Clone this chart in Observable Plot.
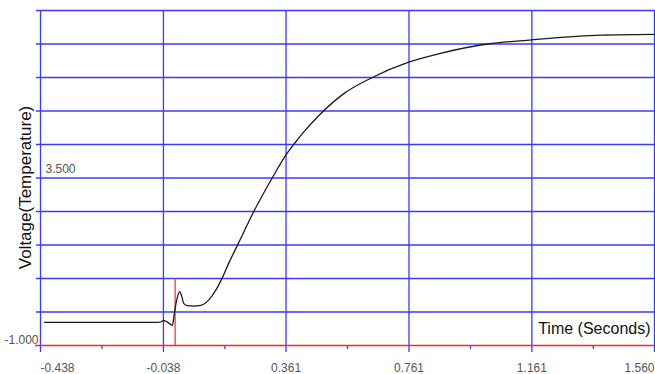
<!DOCTYPE html>
<html>
<head>
<meta charset="utf-8">
<script src="https://cdn.jsdelivr.net/npm/d3@7"></script>
<script src="https://cdn.jsdelivr.net/npm/@observablehq/plot@0.6"></script>
<style>
  html, body { margin: 0; padding: 0; background: #fff; }
  #chart { width: 655px; height: 374px; }
</style>
</head>
<body>
<div id="chart"></div>
<script>
// Data
const timeS = [-0.425, -0.064, -0.048, -0.037, -0.025, -0.009, -0.002, 0.005, 0.015, 0.021, 0.028, 0.040, 0.060, 0.083, 0.109, 0.132, 0.153, 0.175, 0.204, 0.256, 0.316, 0.363, 0.386, 0.414, 0.468, 0.548, 0.642, 0.760, 0.864, 1.017, 1.160, 1.384, 1.557];
const voltage = [-0.38, -0.38, -0.37, -0.33, -0.37, -0.46, -0.11, 0.21, 0.45, 0.34, 0.13, 0.07, 0.06, 0.08, 0.22, 0.48, 0.81, 1.22, 1.71, 2.60, 3.50, 4.15, 4.40, 4.69, 5.18, 5.76, 6.20, 6.61, 6.85, 7.10, 7.21, 7.34, 7.36];

const xTicks = [-0.438, -0.038, 0.361, 0.761, 1.161, 1.560];
const xTickLabels = ["-0.438", "-0.038", "0.361", "0.761", "1.161", "1.560"];
const xMinorTicks = [-0.238, 0.162, 0.561, 0.961, 1.361];
const yGrid = [-0.1, 0.8, 1.7, 2.6, 3.5, 4.4, 5.3, 6.2, 7.1, 8.0];
const yLabels = [3.5, -1.0];
const yLabelTexts = ["3.500", "-1.000"];
const triggerTime = [0];
const triggerTop = 0.8;

const xLabel = "Time (Seconds)";
const yLabel = "Voltage(Temperature)";

const data = timeS.map((t, i) => ({t, v: voltage[i]}));
const xTickData = xTicks.map((x, i) => ({x, label: xTickLabels[i], i}));
const yLabelData = yLabels.map((y, i) => ({y, label: yLabelTexts[i]}));

const BLUE = "#3a3aff";
const RED = "#ff2222";
const n = xTicks.length;

const chart = Plot.plot({
  width: 655,
  height: 374,
  marginLeft: 40,
  marginRight: 1,
  marginTop: 10,
  marginBottom: 29,
  style: {fontFamily: "'Liberation Sans', Arial, sans-serif", fontSize: "12px", background: "white", overflow: "visible"},
  x: {domain: [-0.438, 1.560], axis: null},
  y: {domain: [-1, 8], axis: null},
  marks: [
    Plot.ruleY(yGrid, {stroke: BLUE, strokeWidth: 1.5, insetLeft: -4}),
    Plot.ruleX(xTicks, {stroke: BLUE, strokeWidth: 1.3, insetBottom: -7}),
    Plot.axisX(xMinorTicks, {tickSize: 4, stroke: BLUE, strokeWidth: 1.3, tickFormat: () => "", anchor: "bottom"}),
    Plot.ruleY([-1], {stroke: RED, strokeWidth: 1.4, insetLeft: -5}),
    Plot.ruleX(triggerTime, {y1: -1, y2: triggerTop, stroke: RED, strokeWidth: 1.2}),
    Plot.line(data, {x: "t", y: "v", stroke: "#1a1a1a", strokeWidth: 1.3, curve: "monotone-x"}),
    // x tick labels
    Plot.text(xTickData, {filter: d => d.i === 0, x: "x", text: "label", frameAnchor: "bottom", lineAnchor: "bottom", dy: 26, textAnchor: "start", fill: "#555", fontSize: 12}),
    Plot.text(xTickData, {filter: d => d.i > 0 && d.i < n - 1, x: "x", text: "label", frameAnchor: "bottom", lineAnchor: "bottom", dy: 26, textAnchor: "middle", fill: "#555", fontSize: 12}),
    Plot.text(xTickData, {filter: d => d.i === n - 1, x: "x", text: "label", frameAnchor: "bottom", lineAnchor: "bottom", dy: 26, textAnchor: "end", fill: "#555", fontSize: 12}),
    // y labels
    Plot.text(yLabelData.slice(0, 1), {y: "y", text: "label", frameAnchor: "left", lineAnchor: "bottom", textAnchor: "start", dx: 5, dy: -5, fill: "#555", fontSize: 12}),
    Plot.text(yLabelData.slice(1), {y: "y", text: "label", frameAnchor: "left", lineAnchor: "bottom", textAnchor: "end", dx: -2, dy: -2, fill: "#555", fontSize: 12}),
    // axis titles
    Plot.text([xLabel], {text: d => d, frameAnchor: "bottom-right", lineAnchor: "bottom", textAnchor: "end", dx: -4, dy: -12, fill: "#111", fontSize: 16}),
    Plot.text([yLabel], {text: d => d, y: 3.5, frameAnchor: "left", rotate: -90, lineAnchor: "bottom", textAnchor: "middle", dx: -10, dy: 9.5, fill: "#111", fontSize: 17})
  ]
});

document.getElementById("chart").appendChild(chart);
</script>
</body>
</html>
